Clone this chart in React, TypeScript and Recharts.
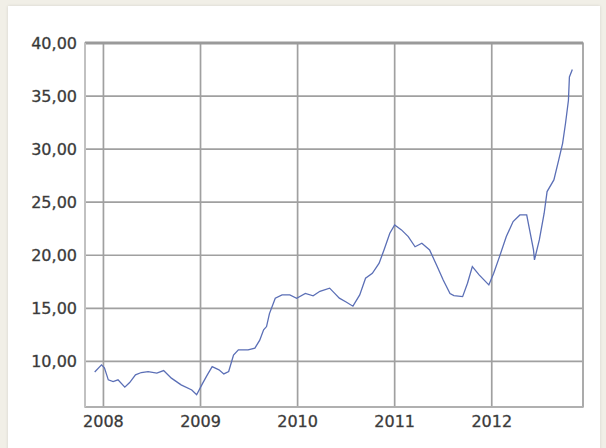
import { LineChart, Line, XAxis, YAxis, CartesianGrid, ReferenceArea, ReferenceLine } from 'recharts';

// decimal year of each sample
const years = [
    2007.91, 2007.98, 2008.01, 2008.05, 2008.1, 2008.15, 2008.22, 2008.27, 2008.33, 2008.39,
    2008.46, 2008.55, 2008.62, 2008.7, 2008.8, 2008.91, 2008.96, 2009.02, 2009.07, 2009.12,
    2009.19, 2009.24, 2009.29, 2009.34, 2009.39, 2009.49, 2009.56, 2009.61, 2009.65, 2009.68,
    2009.71, 2009.77, 2009.84, 2009.92, 2009.99, 2010.08, 2010.16, 2010.23, 2010.33, 2010.38,
    2010.43, 2010.5, 2010.57, 2010.64, 2010.7, 2010.77, 2010.84, 2010.89, 2010.95, 2011.0,
    2011.07, 2011.14, 2011.21, 2011.28, 2011.36, 2011.43, 2011.5, 2011.57, 2011.61, 2011.7,
    2011.75, 2011.8, 2011.87, 2011.97, 2012.02, 2012.08, 2012.15, 2012.22, 2012.29, 2012.36,
    2012.39, 2012.43, 2012.44, 2012.49, 2012.54, 2012.57, 2012.64, 2012.69, 2012.73, 2012.76,
    2012.79, 2012.8, 2012.83,
];

const prices = [
    9.0, 9.67, 9.4, 8.26, 8.1, 8.26, 7.57, 8.0, 8.73, 8.95,
    9.04, 8.9, 9.13, 8.42, 7.79, 7.3, 6.85, 7.9, 8.73, 9.5,
    9.2, 8.82, 9.04, 10.6, 11.08, 11.08, 11.24, 12.0, 12.97, 13.28,
    14.5, 15.95, 16.26, 16.26, 15.95, 16.4, 16.17, 16.6, 16.9, 16.43,
    15.96, 15.6, 15.2, 16.26, 17.83, 18.3, 19.25, 20.5, 22.07, 22.86,
    22.39, 21.76, 20.8, 21.13, 20.5, 19.1, 17.67, 16.4, 16.2, 16.1,
    17.36, 18.93, 18.15, 17.2, 18.3, 19.87, 21.76, 23.17, 23.8, 23.8,
    22.39, 20.5, 19.56, 21.44, 23.96, 26.0, 27.1, 28.98, 30.55, 32.44,
    34.6, 36.8, 37.5,
];

const yearTicks = [2008, 2009, 2010, 2011, 2012];
const priceTicks = [10, 15, 20, 25, 30, 35, 40];

const xDomain = [2007.81, 2012.94];
const yDomain = [5.7, 40];

const data = years.map((y, i) => ({ year: y, price: prices[i] }));

const fmt = (v: number) => v.toFixed(2).replace('.', ',');

const tickStyle = {
    fontFamily: 'DejaVu Sans',
    fontSize: 16,
    fill: '#333333',
    stroke: '#555555',
    strokeWidth: 0.35,
};

export default function App() {
    return (
        <div
            style={{
                position: 'absolute',
                left: 0,
                top: 0,
                width: 606,
                height: 448,
                background: '#f1efe7',
                overflow: 'hidden',
            }}
        >
            <div
                style={{
                    position: 'absolute',
                    left: 8,
                    top: 6,
                    width: 592,
                    height: 446,
                    background: '#ffffff',
                    boxShadow: '0 0 3px rgba(0,0,0,0.12)',
                }}
            />
            <div style={{ position: 'absolute', left: 0, top: 0 }}>
                <LineChart
                    width={606}
                    height={448}
                    data={data}
                    margin={{ top: 43, right: 23, bottom: 0, left: 0 }}
                >
                    <CartesianGrid stroke="#a0a0a0" strokeWidth={1.7} />
                    <XAxis
                        dataKey="year"
                        type="number"
                        domain={xDomain}
                        ticks={yearTicks}
                        allowDataOverflow
                        tickLine={false}
                        axisLine={{ stroke: '#b0b0b0', strokeWidth: 1.5 }}
                        tick={tickStyle}
                        tickMargin={3}
                        height={41}
                        interval={0}
                    />
                    <YAxis
                        type="number"
                        domain={yDomain}
                        ticks={priceTicks}
                        allowDataOverflow
                        tickFormatter={fmt}
                        tickLine={false}
                        axisLine={{ stroke: '#c8c8c8', strokeWidth: 1.5 }}
                        tick={tickStyle}
                        width={85}
                        interval={0}
                    />
                    <ReferenceArea
                        x1={xDomain[0]}
                        x2={xDomain[1]}
                        y1={yDomain[0]}
                        y2={yDomain[1]}
                        fill="none"
                        stroke="#aaaaaa"
                        strokeWidth={1.5}
                        ifOverflow="visible"
                    />
                    <ReferenceLine y={40} stroke="#9a9a9a" strokeWidth={3} />
                    <Line
                        type="linear"
                        dataKey="price"
                        stroke="#5b6fb6"
                        strokeWidth={1.3}
                        dot={false}
                        isAnimationActive={false}
                    />
                </LineChart>
            </div>
        </div>
    );
}
